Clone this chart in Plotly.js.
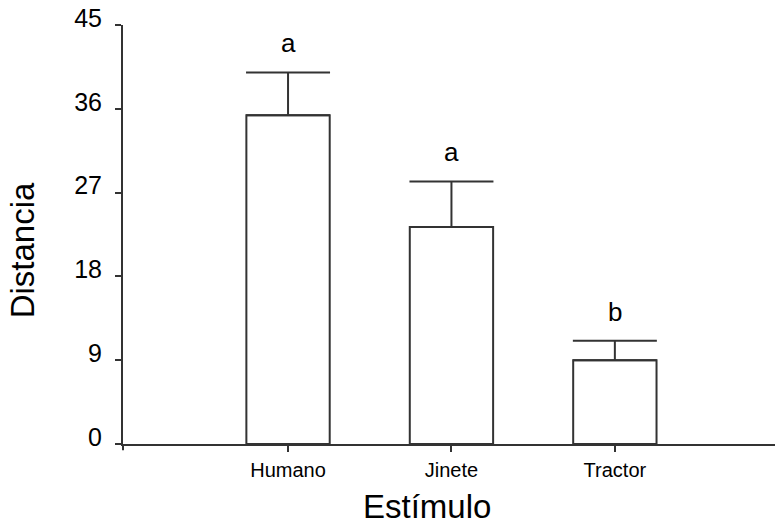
<!DOCTYPE html>
<html>
<head>
<meta charset="utf-8">
<script src="https://cdn.plot.ly/plotly-3.0.1.min.js"></script>
<style>html,body{margin:0;padding:0;background:#fff;}#chart{width:775px;height:524px;}</style>
</head>
<body>
<div id="chart"></div>
<script>
const categories = ["Humano", "Jinete", "Tractor"];
const means = [35.3, 23.3, 9.0];
const errors = [4.6, 4.9, 2.1];
const letters = ["a", "a", "b"];
const yTicks = [0, 9, 18, 27, 36, 45];
const xTitle = "Estímulo";
const yTitle = "Distancia";

const lineColor = "#333333";

const trace = {
  type: "bar",
  x: categories,
  y: means,
  width: 0.51,
  marker: {color: "#ffffff", line: {color: lineColor, width: 2}},
  error_y: {
    type: "data",
    symmetric: false,
    array: errors,
    arrayminus: errors.map(() => 0),
    color: lineColor,
    thickness: 2,
    width: 42
  },
  hoverinfo: "x+y"
};

const annotations = categories.map((c, i) => ({
  x: c, y: means[i] + errors[i], xref: "x", yref: "y",
  text: letters[i], showarrow: false, yanchor: "bottom", yshift: 12,
  font: {family: "Arial, Liberation Sans, sans-serif", size: 26, color: "#000"}
}));
annotations.push({
  x: 0.467, y: -0.148, xref: "paper", yref: "paper", text: xTitle,
  showarrow: false, xanchor: "center", yanchor: "middle",
  font: {family: "Arial, Liberation Sans, sans-serif", size: 33, color: "#000"}
});
annotations.push({
  x: -0.155, y: 0.462, xref: "paper", yref: "paper", text: yTitle,
  showarrow: false, xanchor: "center", yanchor: "middle", textangle: -90,
  font: {family: "Arial, Liberation Sans, sans-serif", size: 33, color: "#000"}
});

const layout = {
  width: 775, height: 524,
  margin: {l: 123, r: 0, t: 24.5, b: 79.7, pad: 0},
  paper_bgcolor: "#fff", plot_bgcolor: "#fff",
  showlegend: false,
  font: {family: "Arial, Liberation Sans, sans-serif", color: "#000"},
  xaxis: {
    type: "category",
    range: [-1.01, 2.98],
    showline: true, linecolor: lineColor, linewidth: 2,
    showgrid: false, zeroline: false,
    ticks: "outside", ticklen: 6, tickwidth: 2, tickcolor: lineColor,
    ticklabelstandoff: 1,
    tickfont: {size: 20, color: "#000"}
  },
  yaxis: {
    range: [0, 45],
    tickvals: yTicks,
    ticktext: yTicks.map(String),
    showline: true, linecolor: lineColor, linewidth: 2,
    showgrid: false, zeroline: false,
    ticks: "outside", ticklen: 6, tickwidth: 2, tickcolor: lineColor,
    ticklabelstandoff: 8,
    ticklabelshift: -7,
    tickfont: {size: 25, color: "#000"}
  },
  annotations: annotations,
  shapes: [
    {type: "line", xref: "paper", yref: "paper", x0: 0, x1: 0, y0: 0, y1: -0.015,
     line: {color: lineColor, width: 2}},
    {type: "line", xref: "paper", yref: "paper", x0: 0, x1: -0.009, y0: 0, y1: 0,
     line: {color: lineColor, width: 2}}
  ]
};

Plotly.newPlot("chart", [trace], layout, {displayModeBar: false, staticPlot: true});
</script>
</body>
</html>
